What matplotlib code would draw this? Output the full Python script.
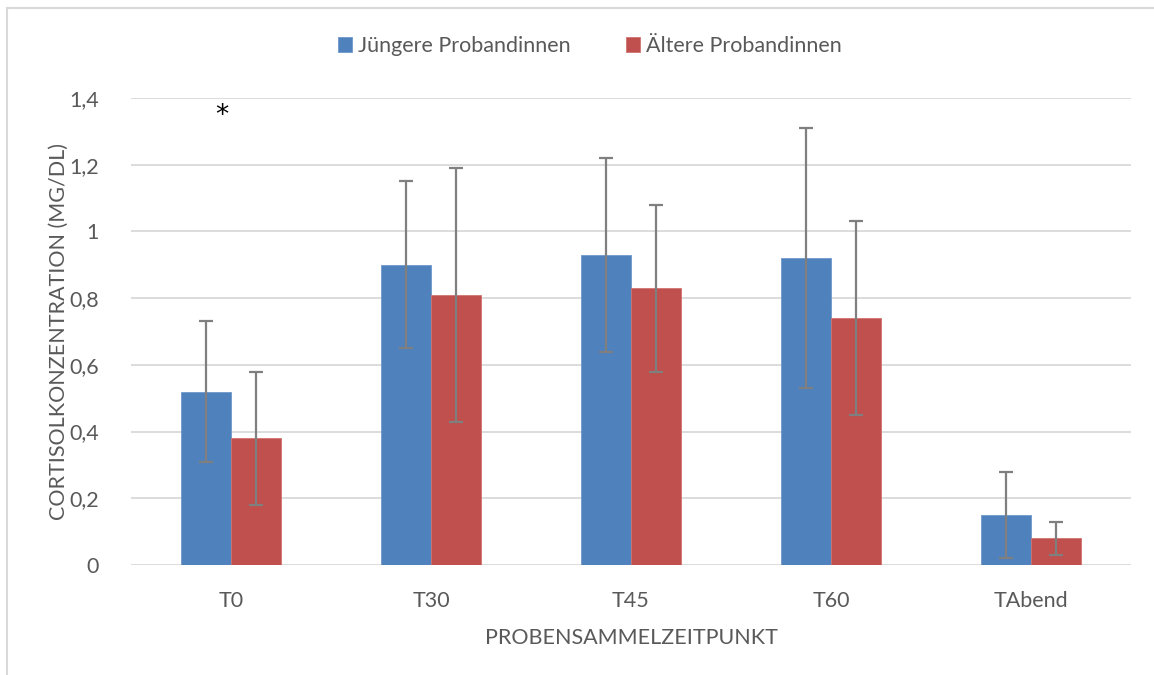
import numpy as np
import matplotlib.pyplot as plt

# data
categories = ["T0", "T30", "T45", "T60", "TAbend"]
young = [0.52, 0.90, 0.93, 0.92, 0.15]
young_err = [0.21, 0.25, 0.29, 0.39, 0.13]
old = [0.38, 0.81, 0.83, 0.74, 0.08]
old_err = [0.20, 0.38, 0.25, 0.29, 0.05]
yticks = [0, 0.2, 0.4, 0.6, 0.8, 1.0, 1.2, 1.4]
ytick_labels = ["0", "0,2", "0,4", "0,6", "0,8", "1", "1,2", "1,4"]

plt.rcParams['font.family'] = ['Lato', 'DejaVu Sans']
text_col = '#595959'
blue = '#4F81BD'
red = '#C0504D'
fs = 15.5

fig = plt.figure(figsize=(11.54, 6.75), dpi=100)
ax = fig.add_axes([131 / 1154, 1 - 565 / 675, 1000 / 1154, 467 / 675])

x = np.arange(len(categories))
w = 0.25
err_style = dict(ecolor='#7f7f7f', elinewidth=1.6, capsize=5, capthick=1.6)
ax.bar(x - w / 2, young, w, color=blue, edgecolor='#6e98cc', linewidth=0.6,
       yerr=young_err, error_kw=err_style, label='Jüngere Probandinnen', zorder=2)
ax.bar(x + w / 2, old, w, color=red, edgecolor='#d07370', linewidth=0.6,
       yerr=old_err, error_kw=err_style, label='Ältere Probandinnen', zorder=2)

ax.set_xlim(-0.5, len(categories) - 0.5)
ax.set_ylim(0, 1.4)
ax.set_yticks(yticks)
ax.set_yticklabels(ytick_labels)
ax.set_xticks(x)
ax.set_xticklabels(categories)
ax.grid(axis='y', color='#d9d9d9', linewidth=1.3, zorder=0)
for s in ax.spines.values():
    s.set_visible(False)
ax.tick_params(length=0, labelsize=fs, colors=text_col)
ax.tick_params(axis='x', pad=19)
ax.tick_params(axis='y', pad=23)

ax.set_xlabel("PROBENSAMMELZEITPUNKT", fontsize=fs, color=text_col, labelpad=12)
ax.set_ylabel("CORTISOLKONZENTRATION (MG/DL)", fontsize=fs, color=text_col, labelpad=0)

# significance mark
ax.text(-0.045, 1.345, "*", fontsize=19, color='black', ha='center', va='center',
        family='DejaVu Sans')

fig.legend(loc='center', bbox_to_anchor=(590 / 1154, 1 - 46 / 675), ncol=2,
           frameon=False, fontsize=fs, handlelength=0.65, handleheight=0.65,
           handletextpad=0.25, columnspacing=2.6, labelcolor=text_col)

# outer chart border (left and top visible)
fig.add_artist(plt.Line2D([7 / 1154, 7 / 1154], [0, 1 - 8 / 675], color='#d9d9d9',
                          linewidth=1.5, transform=fig.transFigure))
fig.add_artist(plt.Line2D([7 / 1154, 1], [1 - 8 / 675, 1 - 8 / 675], color='#d9d9d9',
                          linewidth=1.5, transform=fig.transFigure))

fig.savefig("out.png", dpi=100)
